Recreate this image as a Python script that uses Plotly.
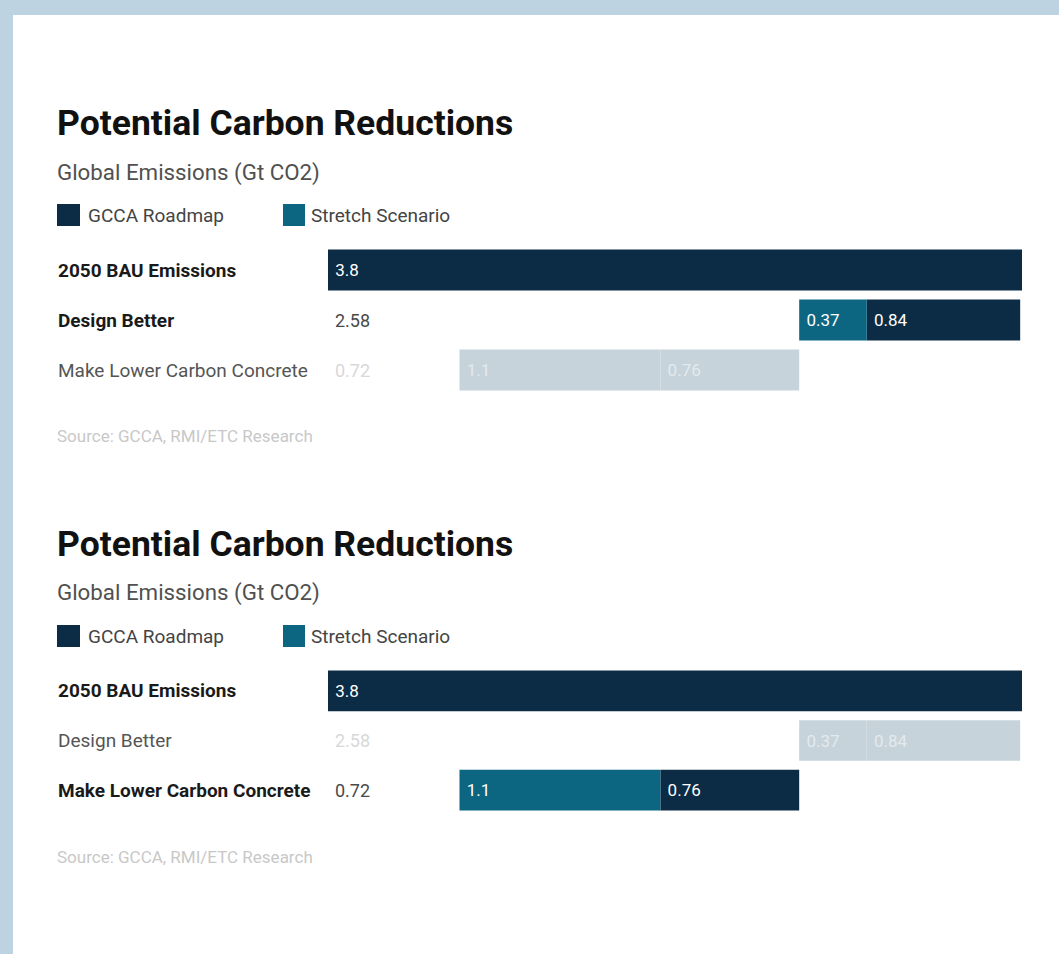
import plotly.graph_objects as go

# ---- data -------------------------------------------------------------
categories = ["2050 BAU Emissions", "Design Better", "Make Lower Carbon Concrete"]
bau_total = 3.8
lever_names = ["Design Better", "Make Lower Carbon Concrete"]
lever_remaining = [2.58, 0.72]      # emissions left after the lever
stretch_vals = [0.37, 1.1]          # Stretch Scenario reduction
gcca_vals = [0.84, 0.76]            # GCCA Roadmap reduction
legend_names = ["GCCA Roadmap", "Stretch Scenario"]
title_text = "Potential Carbon Reductions"
subtitle_text = "Global Emissions (Gt CO2)"
source_text = "Source: GCCA, RMI/ETC Research"

# ---- styling ----------------------------------------------------------
W, H = 1059, 954
NAVY = "#0c2c45"
TEAL = "#0d6681"
FADED = "#c6d3da"
FADED_TEXT = "#e3eaee"
FONT = "Roboto"
BG_FRAME = "#bdd3e2"
PAD = "\u00a0"

def px_x(px):
    return px / W

def px_y(py):
    return 1 - py / H

# one panel per highlighted lever
panels = [
    dict(focus=0, title_y=123, sub_y=172, leg_y=215, dom=(245, 395), src_y=436),
    dict(focus=1, title_y=544, sub_y=592, leg_y=636, dom=(666, 815), src_y=857),
]

fig = go.Figure()
shapes = []
annotations = []

# white card over the light-blue frame
shapes.append(dict(type="rect", xref="paper", yref="paper",
                   x0=px_x(13), x1=1.0, y0=0, y1=px_y(15),
                   fillcolor="white", line=dict(width=0), layer="below"))

for i, p in enumerate(panels):
    xa = "x" if i == 0 else f"x{i+1}"
    ya = "y" if i == 0 else f"y{i+1}"
    focus = p["focus"]

    gcca_x = [bau_total] + gcca_vals
    gcca_base = [0] + [r + s for r, s in zip(lever_remaining, stretch_vals)]
    gcca_col = [NAVY] + [NAVY if k == focus else FADED for k in range(len(lever_names))]
    gcca_tcol = ["white"] + ["white" if k == focus else FADED_TEXT for k in range(len(lever_names))]

    st_col = [TEAL if k == focus else FADED for k in range(len(lever_names))]
    st_tcol = ["white" if k == focus else FADED_TEXT for k in range(len(lever_names))]

    fig.add_trace(go.Bar(
        y=categories, x=gcca_x, base=gcca_base, orientation="h",
        marker=dict(color=gcca_col, line=dict(width=0)),
        text=[PAD + str(v) for v in gcca_x], textposition="inside",
        insidetextanchor="start", constraintext="none",
        textfont=dict(family=FONT, size=17, color=gcca_tcol),
        width=0.82, xaxis=xa, yaxis=ya, showlegend=False, name=legend_names[0],
    ))
    fig.add_trace(go.Bar(
        y=lever_names, x=stretch_vals, base=lever_remaining, orientation="h",
        marker=dict(color=st_col, line=dict(width=0)),
        text=[PAD + str(v) for v in stretch_vals], textposition="inside",
        insidetextanchor="start", constraintext="none",
        textfont=dict(family=FONT, size=17, color=st_tcol),
        width=0.82, xaxis=xa, yaxis=ya, showlegend=False, name=legend_names[1],
    ))

    # remaining-emission labels at the start of each lever row
    for k, (name, rem) in enumerate(zip(lever_names, lever_remaining)):
        annotations.append(dict(
            x=0, y=name, xref=xa, yref=ya, text=str(rem), showarrow=False,
            xanchor="left", xshift=5,
            font=dict(family=FONT, size=18, color="#4a4a4a" if k == focus else "#d8d8d8"),
        ))

    # row labels
    for c in categories:
        if c == categories[0]:
            bold, col = True, "#1a1a1a"
        else:
            k = lever_names.index(c)
            bold = k == focus
            col = "#1a1a1a" if k == focus else "#555555"
        annotations.append(dict(
            x=px_x(56), y=c, xref="paper", yref=ya,
            text=f"<b>{c}</b>" if bold else c, showarrow=False, xanchor="left",
            font=dict(family=FONT, size=19, color=col),
        ))

    # title / subtitle
    annotations.append(dict(x=px_x(55), y=px_y(p["title_y"]), xref="paper", yref="paper",
                            text=f"<b>{title_text}</b>", showarrow=False,
                            xanchor="left", yanchor="middle",
                            font=dict(family=FONT, size=35.5, color="#111111")))
    annotations.append(dict(x=px_x(55), y=px_y(p["sub_y"]), xref="paper", yref="paper",
                            text=subtitle_text, showarrow=False,
                            xanchor="left", yanchor="middle",
                            font=dict(family=FONT, size=22.3, color="#505050")))

    # legend swatches
    ly = p["leg_y"]
    for (x0, x1, tx, col, label) in [(57, 80, 86, NAVY, legend_names[0]),
                                     (283, 305, 309, TEAL, legend_names[1])]:
        shapes.append(dict(type="rect", xref="paper", yref="paper",
                           x0=px_x(x0), x1=px_x(x1), y0=px_y(ly + 11), y1=px_y(ly - 11),
                           fillcolor=col, line=dict(width=0)))
        annotations.append(dict(x=px_x(tx), y=px_y(ly), xref="paper", yref="paper",
                                text=label, showarrow=False, xanchor="left", yanchor="middle",
                                font=dict(family=FONT, size=19, color="#444444")))

    # source note
    annotations.append(dict(x=px_x(55), y=px_y(p["src_y"]), xref="paper", yref="paper",
                            text=source_text, showarrow=False, xanchor="left", yanchor="middle",
                            font=dict(family=FONT, size=17, color="#c8c8c8")))

    d0, d1 = p["dom"]
    axis_x = dict(domain=[px_x(328), px_x(1022)], range=[0, bau_total],
                  visible=False, fixedrange=True)
    axis_y = dict(domain=[px_y(d1), px_y(d0)], type="category",
                  categoryorder="array", categoryarray=categories,
                  range=[2.5, -0.5], visible=False, fixedrange=True)
    if i == 0:
        fig.update_layout(xaxis=dict(axis_x, anchor="y"), yaxis=dict(axis_y, anchor="x"))
    else:
        fig.update_layout(**{f"xaxis{i+1}": dict(axis_x, anchor=f"y{i+1}"),
                             f"yaxis{i+1}": dict(axis_y, anchor=f"x{i+1}")})

fig.update_layout(
    width=W, height=H, margin=dict(l=0, r=0, t=0, b=0),
    paper_bgcolor=BG_FRAME, plot_bgcolor="rgba(0,0,0,0)",
    barmode="overlay", shapes=shapes, annotations=annotations,
    font=dict(family=FONT),
)

fig.write_html("out.html", config={"displayModeBar": False})
